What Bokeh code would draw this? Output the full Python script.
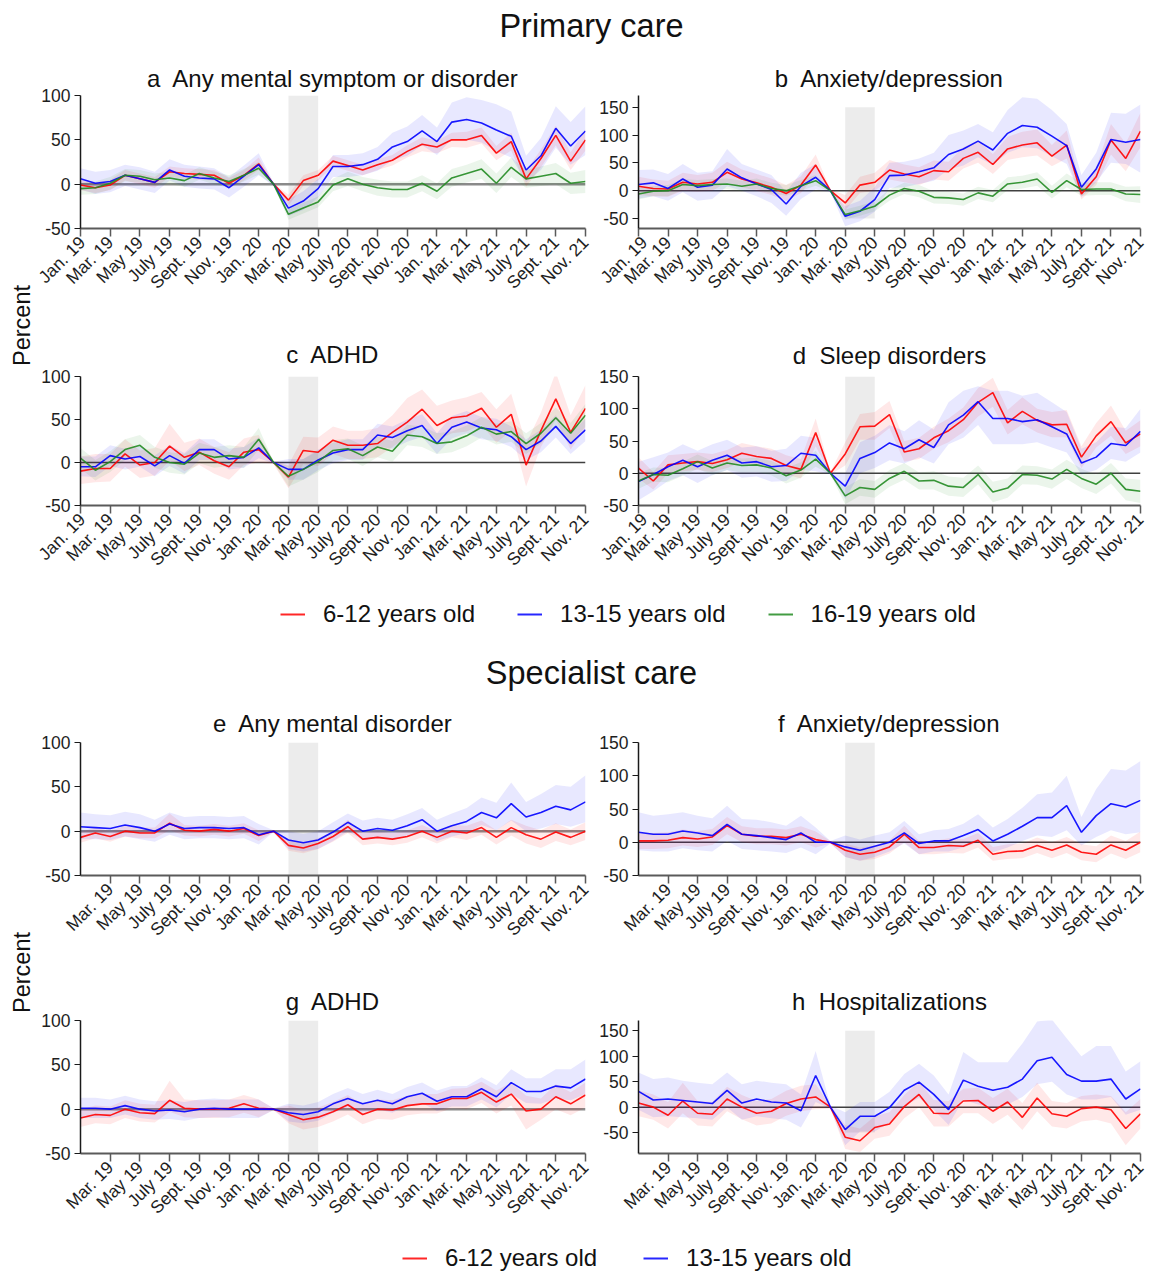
import math
from bokeh.plotting import figure
from bokeh.layouts import column, row
from bokeh.models import (Range1d, FixedTicker, Span, BoxAnnotation, Label,
                          Legend, LegendItem)
from bokeh.embed import file_html
from bokeh.resources import INLINE

FONT = "Liberation Sans"

# ---------------------------------------------------------------- categories
months = ["Jan. 19", "Feb. 19", "Mar. 19", "Apr. 19", "May 19", "June 19",
          "July 19", "Aug. 19", "Sept. 19", "Oct. 19", "Nov. 19", "Dec. 19",
          "Jan. 20", "Feb. 20", "Mar. 20", "Apr. 20", "May 20", "June 20",
          "July 20", "Aug. 20", "Sept. 20", "Oct. 20", "Nov. 20", "Dec. 20",
          "Jan. 21", "Feb. 21", "Mar. 21", "Apr. 21", "May 21", "June 21",
          "July 21", "Aug. 21", "Sept. 21", "Oct. 21", "Nov. 21"]
lockdown = ["Mar. 20", "May 20"]
groups = ["6-12 years old", "13-15 years old", "16-19 years old"]
colors = {"6-12 years old": "#FF0000", "13-15 years old": "#0000FF",
          "16-19 years old": "#228B22"}

# ---------------------------------------------------------------- a  primary, any mental
a_red = [-1,-4,-1,10,6,2,14,12,11,10,1,10,23,0,-18,4,10,26,21,16,22,27,37,45,42,50,50,55,35,48,6,29,55,26,50]
a_red_lo = [-7,-10,-7,4,0,-4,8,6,5,4,-5,4,16,-1,-24,-2,4,20,15,10,16,21,30,37,35,42,41,46,27,38,-3,19,44,16,38]
a_red_hi = [5,2,5,16,12,8,20,18,17,16,7,16,30,1,-12,10,16,32,27,22,28,33,44,53,49,58,59,64,43,58,15,39,66,36,62]
a_blue = [6,1,3,10,6,2,16,9,7,6,-4,9,22,0,-27,-19,-5,20,20,22,28,42,48,60,48,70,73,69,61,54,16,32,63,43,60]
a_blue_lo = [-6,-11,-9,-2,-6,-10,4,-3,-5,-6,-15,-3,10,-2,-36,-29,-15,8,8,10,15,27,32,44,33,51,50,47,37,30,2,16,41,22,33]
a_blue_hi = [18,14,16,22,19,14,28,22,20,18,8,21,35,2,-17,-8,6,33,33,35,42,58,65,78,64,92,98,95,90,82,32,52,88,70,88]
a_green = [-5,-4,1,10,9,5,7,4,12,7,3,10,18,0,-34,-27,-20,-1,6,0,-4,-6,-6,1,-8,7,12,17,1,19,6,9,12,1,3]
a_green_lo = [-12,-11,-6,3,2,-2,0,-3,5,0,-4,3,11,-1,-40,-33,-26,-8,-2,-8,-13,-15,-15,-8,-17,-3,2,6,-10,8,-4,-2,0,-11,-10]
a_green_hi = [2,3,8,17,16,12,14,11,19,14,10,17,25,1,-28,-21,-14,6,14,8,5,3,3,10,1,17,22,28,12,30,16,20,24,13,16]

# ---------------------------------------------------------------- b  primary, anxiety/depression
b_red = [8,4,3,15,12,15,33,21,14,6,-5,10,46,0,-22,10,15,37,30,25,36,34,58,69,47,75,82,86,62,82,-6,25,91,58,107]
b_red_lo = [-8,-10,-11,0,-2,0,15,6,0,-8,-18,-4,28,-2,-35,-4,0,20,15,10,20,18,40,50,30,55,60,63,44,58,-16,10,65,35,78]
b_red_hi = [25,20,18,32,28,32,52,38,30,22,10,26,65,2,-8,25,32,55,47,42,54,52,78,90,66,97,106,110,82,108,6,42,120,85,140]
b_blue = [11,14,4,21,6,10,39,23,12,2,-24,8,24,0,-46,-37,-16,27,28,34,41,65,75,89,73,103,117,114,98,81,6,39,92,87,92]
b_blue_lo = [-14,-10,-18,-3,-18,-15,8,0,-10,-22,-45,-15,2,-3,-64,-55,-38,5,6,12,18,38,45,60,46,68,78,76,62,48,-12,15,50,48,32]
b_blue_hi = [37,38,30,48,32,35,75,48,38,28,-2,32,48,3,-28,-18,6,50,52,58,68,100,108,120,105,145,168,165,145,120,28,68,140,138,155]
b_green = [-6,-1,0,11,9,11,12,8,12,4,0,9,18,0,-43,-36,-28,-8,4,-1,-12,-13,-16,-4,-10,12,15,21,-3,18,2,3,3,-6,-7]
b_green_lo = [-16,-10,-10,2,0,2,3,-1,3,-5,-9,0,9,-2,-52,-45,-37,-18,-6,-12,-23,-24,-27,-15,-21,1,4,9,-14,6,-9,-8,-8,-19,-22]
b_green_hi = [5,8,10,21,19,21,22,18,22,14,10,19,28,2,-34,-27,-19,2,14,10,-1,-2,-5,7,1,24,27,33,9,31,14,15,15,7,8]

# ---------------------------------------------------------------- c  primary, ADHD
c_red = [-10,-7,-7,10,-3,0,19,6,12,2,-5,12,15,0,-17,14,12,26,20,20,22,35,47,62,43,52,54,63,41,56,-3,37,74,35,63]
c_red_lo = [-25,-23,-22,-5,-18,-15,2,-10,-3,-13,-20,-3,0,-2,-30,-2,-4,10,4,4,6,18,30,44,26,34,36,44,23,37,-28,18,50,15,40]
c_red_hi = [7,10,10,27,14,17,45,23,28,18,12,28,32,2,-3,30,29,42,37,37,40,55,75,85,66,72,76,82,62,80,22,58,105,55,90]
c_blue = [-5,-5,8,4,7,-4,8,-1,15,15,4,6,17,0,-8,-8,3,11,15,15,32,29,37,43,22,41,47,40,38,30,15,25,42,22,38]
c_blue_lo = [-16,-17,-4,-8,-5,-16,-4,-13,3,3,-8,-6,5,-1,-20,-20,-9,-1,3,3,19,16,24,30,10,28,34,27,25,18,3,12,29,10,25]
c_blue_hi = [7,7,20,16,19,8,20,11,27,27,16,18,29,1,4,4,15,23,27,27,45,42,50,56,34,54,60,53,51,42,27,38,55,34,51]
c_green = [5,-9,1,15,20,6,0,-2,11,6,8,6,27,0,-16,-8,1,14,16,8,18,13,32,30,22,24,31,41,33,36,22,34,52,34,55]
c_green_lo = [-7,-21,-11,3,8,-6,-12,-14,-1,-6,-4,-6,15,-1,-28,-20,-11,2,4,-4,6,1,20,18,10,12,19,29,21,24,10,22,40,22,42]
c_green_hi = [17,3,13,27,32,18,12,10,23,18,20,18,40,1,-4,4,13,26,28,20,30,25,44,42,34,36,43,53,45,48,34,46,64,46,68]

# ---------------------------------------------------------------- d  primary, sleep
d_red = [8,-12,13,16,18,15,21,31,26,23,12,6,63,0,30,72,73,91,33,38,55,66,83,110,125,78,96,82,75,76,25,58,80,47,61]
d_red_lo = [-8,-25,0,3,5,2,8,17,12,9,-2,-8,42,-2,12,52,52,70,18,22,38,48,64,88,103,60,76,63,56,56,8,40,58,30,42]
d_red_hi = [25,2,28,30,32,30,36,47,42,38,28,22,85,2,48,92,95,112,50,55,72,85,102,132,148,98,118,100,95,98,42,78,105,66,82]
d_blue = [-13,-2,10,20,10,20,28,16,18,10,12,31,28,0,-20,23,32,47,38,52,40,75,90,111,85,85,80,83,72,61,16,25,46,43,65]
d_blue_lo = [-42,-28,-12,-3,-15,-3,5,-7,-5,-13,-12,5,3,-2,-40,0,8,20,15,25,15,45,55,75,45,45,45,48,40,32,-2,5,22,18,32]
d_blue_hi = [18,25,32,45,35,45,52,40,42,35,38,58,55,2,0,48,58,75,65,82,68,110,128,135,128,128,120,125,110,95,38,48,72,70,100]
d_green = [-12,-2,-3,7,18,8,16,12,13,8,-4,5,22,0,-35,-22,-25,-8,3,-12,-11,-20,-22,-2,-29,-23,-2,-3,-9,6,-8,-17,0,-25,-28]
d_green_lo = [-24,-13,-14,-4,7,-3,5,1,2,-3,-16,-7,10,-2,-48,-35,-38,-21,-10,-25,-25,-35,-37,-17,-45,-38,-17,-18,-24,-9,-23,-32,-16,-42,-46]
d_green_hi = [0,9,8,18,29,19,27,23,24,19,8,17,35,2,-22,-9,-12,5,16,1,3,-5,-7,12,-13,-8,12,11,6,21,7,-2,16,-8,-10]

# ---------------------------------------------------------------- e  specialist, any mental
e_red = [-7,-2,-6,0,-2,-2,9,1,0,2,0,3,-5,0,-16,-19,-14,-6,5,-9,-7,-9,-6,0,-7,0,-2,4,-7,4,-4,-9,-1,-7,0]
e_red_lo = [-13,-8,-12,-6,-8,-8,1,-5,-6,-4,-6,-3,-11,-1,-22,-25,-20,-12,-2,-16,-14,-16,-13,-7,-14,-7,-10,-4,-15,-5,-14,-19,-11,-16,-10]
e_red_hi = [-1,4,0,6,4,4,20,7,6,8,6,9,1,1,-10,-13,-8,0,13,-2,0,-2,1,7,0,7,6,12,1,13,6,1,9,2,10]
e_blue = [5,4,3,7,4,0,8,3,4,4,3,4,-4,0,-10,-13,-10,-1,10,0,3,1,6,13,0,6,11,21,15,31,16,21,28,24,33]
e_blue_lo = [-9,-9,-10,-6,-9,-12,-4,-9,-8,-8,-9,-8,-15,-1,-20,-23,-20,-11,0,-10,-8,-10,-6,1,-11,-6,-2,7,1,12,0,3,8,5,10]
e_blue_hi = [21,19,18,22,19,13,21,16,17,17,16,17,8,1,0,-3,0,10,20,12,15,13,19,26,13,20,26,38,32,55,33,42,52,50,63]

# ---------------------------------------------------------------- f  specialist, anxiety/depression
f_red = [2,2,3,7,5,8,25,12,9,9,7,12,4,0,-12,-18,-15,-7,12,-8,-8,-5,-6,3,-18,-14,-13,-5,-12,-4,-15,-18,-4,-12,0]
f_red_lo = [-10,-10,-9,-5,-7,-4,12,0,-3,-3,-5,0,-8,-2,-22,-28,-25,-17,0,-18,-18,-16,-17,-8,-28,-25,-24,-16,-24,-16,-27,-30,-17,-25,-15]
f_red_hi = [14,14,15,19,17,20,38,24,21,21,19,24,16,2,-2,-8,-5,3,25,2,2,6,5,14,-7,-3,-2,7,0,8,-3,-6,10,2,16]
f_blue = [15,12,12,17,14,10,27,12,10,7,4,14,0,0,-7,-12,-6,0,14,-2,2,2,10,19,2,12,24,37,37,55,15,40,58,53,63]
f_blue_lo = [-12,-14,-14,-9,-12,-14,2,-10,-12,-14,-16,-8,-18,-2,-22,-28,-22,-14,-2,-18,-14,-14,-8,0,-15,-8,2,10,8,18,-5,8,18,12,15]
f_blue_hi = [45,40,42,45,40,36,55,35,34,30,25,40,22,2,10,4,10,15,32,12,18,20,28,42,22,35,52,72,75,100,38,80,110,108,122]

# ---------------------------------------------------------------- g  specialist, ADHD
g_red = [-10,-6,-7,0,-4,-5,10,1,0,0,1,6,1,0,-6,-12,-9,-3,5,-6,0,-1,4,6,6,12,12,19,8,17,-2,0,14,6,16]
g_red_lo = [-20,-16,-17,-10,-14,-15,-3,-9,-10,-10,-9,-4,-9,-1,-16,-23,-20,-14,-6,-17,-11,-12,-7,-5,-5,1,0,7,-5,4,-23,-12,0,-7,2]
g_red_hi = [0,4,3,10,6,5,32,11,10,10,11,16,11,1,4,-1,2,8,16,5,11,10,15,17,17,23,24,31,21,30,15,12,28,19,30]
g_blue = [1,1,0,4,0,-2,-1,-3,0,1,0,0,0,0,-4,-6,-3,6,12,6,10,6,14,18,9,14,14,23,14,30,20,20,26,24,34]
g_blue_lo = [-10,-10,-10,-6,-10,-12,-11,-13,-10,-9,-10,-10,-10,-1,-14,-16,-13,-4,2,-4,0,-4,4,7,-2,3,3,11,2,17,7,6,12,10,17]
g_blue_hi = [13,13,11,15,11,9,10,8,11,12,11,11,11,1,6,4,8,17,24,17,22,17,25,30,21,26,26,36,27,45,35,35,45,45,56]

# ---------------------------------------------------------------- h  specialist, hospitalizations
h_red = [8,0,-16,12,-12,-14,16,0,-12,-8,7,16,20,0,-59,-66,-40,-33,1,25,-12,-13,12,13,-8,10,-20,18,-13,-18,-3,0,-5,-42,-13]
h_red_lo = [-18,-25,-42,-12,-36,-38,-8,-24,-36,-32,-17,-8,-4,-3,-82,-88,-62,-56,-22,0,-38,-38,-12,-12,-33,-15,-45,-8,-38,-42,-28,-25,-32,-75,-42]
h_red_hi = [33,25,10,48,12,10,40,24,12,16,32,42,45,3,-35,-42,-18,-10,24,50,14,12,36,38,18,36,8,48,12,8,22,25,22,-10,16]
h_blue = [31,14,16,13,10,7,33,8,16,10,8,-7,62,0,-44,-18,-18,-1,33,49,25,-5,53,41,33,39,55,91,98,64,51,51,55,16,36]
h_blue_lo = [-5,-20,-18,-20,-22,-25,0,-25,-18,-22,-25,-40,10,-3,-75,-48,-48,-30,2,18,-5,-35,15,5,0,5,20,45,50,25,15,15,20,-15,-5]
h_blue_hi = [68,55,58,52,48,45,68,45,52,48,45,25,110,3,-10,10,10,30,65,85,62,25,108,88,88,88,125,168,172,135,100,120,120,70,90]

G0, G1, G2 = groups


def make_panel(title, series, y_range, y_ticks, shade_y, first_tick,
               zero_color, zero_width, width, height, mbl, mbr, mbt, mbb,
               title_standoff):
    xs = list(range(len(months)))
    p = figure(width=width, height=height, title=title,
               x_range=Range1d(0, len(months) - 1), y_range=Range1d(*y_range),
               output_backend="svg", toolbar_location=None,
               min_border_left=mbl, min_border_right=mbr,
               min_border_top=mbt, min_border_bottom=mbb)
    p.add_layout(BoxAnnotation(left=months.index(lockdown[0]),
                               right=months.index(lockdown[1]),
                               bottom=shade_y[0], top=shade_y[1],
                               fill_color="#d4d4d4", fill_alpha=0.45,
                               line_alpha=0, level="underlay"))
    p.add_layout(Span(location=0, dimension="width", line_color=zero_color,
                      line_width=zero_width, level="underlay"))
    for grp, mean, lo, hi in series:
        p.varea(x=xs, y1=lo, y2=hi, fill_color=colors[grp], fill_alpha=0.09)
    for grp, mean, lo, hi in series:
        p.line(xs, mean, line_color=colors[grp], line_width=1.6, line_alpha=0.9)

    p.title.align = "center"
    p.title.text_font = FONT
    p.title.text_font_size = "24px"
    p.title.text_font_style = "normal"
    p.title.text_color = "#111111"
    p.title.standoff = title_standoff

    ticks = list(range(first_tick, len(months), 2))
    p.xaxis.ticker = FixedTicker(ticks=ticks)
    p.xaxis.major_label_overrides = {t: months[t] for t in ticks}
    p.xaxis.major_label_orientation = math.pi / 4
    p.xaxis.axis_line_color = "#5a5a5a"
    p.xaxis.axis_line_width = 2
    p.xaxis.major_tick_line_color = "#5a5a5a"
    p.xaxis.major_tick_line_width = 1.5
    p.xaxis.major_tick_out = 8
    p.xaxis.major_tick_in = 0
    p.xaxis.minor_tick_line_color = None
    p.xaxis.major_label_standoff = 3

    p.yaxis.ticker = FixedTicker(ticks=y_ticks)
    p.yaxis.major_label_overrides = {t: str(t) for t in y_ticks}
    p.yaxis.axis_line_color = "#1a1a1a"
    p.yaxis.axis_line_width = 1.5
    p.yaxis.major_tick_line_color = "#1a1a1a"
    p.yaxis.major_tick_line_width = 1.2
    p.yaxis.major_tick_out = 6
    p.yaxis.major_tick_in = 0
    p.yaxis.minor_tick_line_color = None
    p.yaxis.major_label_standoff = 4

    for ax in (p.xaxis, p.yaxis):
        ax.major_label_text_font = FONT
        ax.major_label_text_font_size = "17.5px"
        ax.major_label_text_color = "#1e1e1e"

    p.xgrid.visible = False
    p.ygrid.visible = False
    p.outline_line_color = None
    p.background_fill_color = "white"
    return p


def text_fig(text, width, height, x, y, size, angle=0.0):
    p = figure(width=width, height=height, x_range=Range1d(0, 1),
               y_range=Range1d(0, 1), output_backend="svg",
               toolbar_location=None, min_border=0,
               x_axis_type=None, y_axis_type=None)
    p.xgrid.visible = False
    p.ygrid.visible = False
    p.outline_line_color = None
    p.add_layout(Label(x=x, y=y, x_units="screen", y_units="screen",
                       text=text, angle=angle, text_align="center",
                       text_baseline="middle", text_font=FONT,
                       text_font_size=size, text_color="#111111"))
    return p


def legend_fig(grps, width, height, loc, spacing):
    p = figure(width=width, height=height, x_range=Range1d(0, 1),
               y_range=Range1d(0, 1), output_backend="svg",
               toolbar_location=None, min_border=0,
               x_axis_type=None, y_axis_type=None)
    p.xgrid.visible = False
    p.ygrid.visible = False
    p.outline_line_color = None
    items = []
    for g in grps:
        # invisible proxy renderer (kept outside the visible range) for the legend key
        r = p.line(x=[-3, -2], y=[-3, -2], line_color=colors[g],
                   line_width=2, line_alpha=0.85)
        items.append(LegendItem(label=g, renderers=[r]))
    leg = Legend(items=items, orientation="horizontal", location=loc,
                 glyph_width=25, glyph_height=26, label_height=26,
                 label_standoff=18, spacing=spacing, padding=0, margin=0,
                 border_line_alpha=0, background_fill_alpha=0,
                 label_text_font=FONT, label_text_font_size="24px",
                 label_text_color="#111111")
    p.add_layout(leg, "center")
    return p


W_LEFT, W_RIGHT, W_PCT = 562, 553, 34
W_ALL = W_PCT + W_LEFT + W_RIGHT

pa = make_panel("a\u00a0 Any mental symptom or disorder",
                [(G0, a_red, a_red_lo, a_red_hi), (G1, a_blue, a_blue_lo, a_blue_hi),
                 (G2, a_green, a_green_lo, a_green_hi)],
                (-50, 100), [-50, 0, 50, 100], (-50, 100), 0, "#8a8a8a", 2.5,
                W_LEFT, 245, 46, 11, 35, 75, 8)
pb = make_panel("b\u00a0 Anxiety/depression",
                [(G0, b_red, b_red_lo, b_red_hi), (G1, b_blue, b_blue_lo, b_blue_hi),
                 (G2, b_green, b_green_lo, b_green_hi)],
                (-68, 171), [-50, 0, 50, 100, 150], (-50, 150), 0, "#404040", 1.5,
                W_RIGHT, 245, 40, 9, 35, 75, 8)
pc = make_panel("c\u00a0 ADHD",
                [(G0, c_red, c_red_lo, c_red_hi), (G1, c_blue, c_blue_lo, c_blue_hi),
                 (G2, c_green, c_green_lo, c_green_hi)],
                (-50, 100), [-50, 0, 50, 100], (-50, 100), 0, "#404040", 1.5,
                W_LEFT, 282, 46, 11, 73, 80, 17)
pd_ = make_panel("d\u00a0 Sleep disorders",
                 [(G0, d_red, d_red_lo, d_red_hi), (G1, d_blue, d_blue_lo, d_blue_hi),
                  (G2, d_green, d_green_lo, d_green_hi)],
                 (-50, 150), [-50, 0, 50, 100, 150], (-50, 150), 0, "#404040", 1.5,
                 W_RIGHT, 282, 40, 9, 69, 80, 15)
pe = make_panel("e\u00a0 Any mental disorder",
                [(G0, e_red, e_red_lo, e_red_hi), (G1, e_blue, e_blue_lo, e_blue_hi)],
                (-50, 100), [-50, 0, 50, 100], (-50, 100), 2, "#8a8a8a", 2.5,
                W_LEFT, 255, 46, 11, 42, 80, 11)
pf = make_panel("f\u00a0 Anxiety/depression",
                [(G0, f_red, f_red_lo, f_red_hi), (G1, f_blue, f_blue_lo, f_blue_hi)],
                (-50, 150), [-50, 0, 50, 100, 150], (-50, 150), 2, "#404040", 1.5,
                W_RIGHT, 255, 40, 9, 42, 80, 11)
pg = make_panel("g\u00a0 ADHD",
                [(G0, g_red, g_red_lo, g_red_hi), (G1, g_blue, g_blue_lo, g_blue_hi)],
                (-50, 100), [-50, 0, 50, 100], (-50, 100), 2, "#8a8a8a", 2.5,
                W_LEFT, 273, 46, 11, 64, 75, 11)
ph = make_panel("h\u00a0 Hospitalizations",
                [(G0, h_red, h_red_lo, h_red_hi), (G1, h_blue, h_blue_lo, h_blue_hi)],
                (-91, 170), [-50, 0, 50, 100, 150], (-50, 150), 2, "#404040", 1.5,
                W_RIGHT, 273, 40, 9, 65, 75, 12)

title1 = text_fig("Primary care", W_ALL, 58, 591, 33, "32.5px")
pct1 = text_fig("Percent", W_PCT, 527, 21, 260, "23.5px", angle=math.pi / 2)
leg1 = legend_fig(groups, W_ALL, 60, (280, 17), 42)
title2 = text_fig("Specialist care", W_ALL, 55, 591, 28, "32.5px")
pct2 = text_fig("Percent", W_PCT, 528, 21, 256, "23.5px", angle=math.pi / 2)
leg2 = legend_fig(groups[:2], W_ALL, 48, (402, 4), 46)

layout = column(
    title1,
    row(pct1, column(row(pa, pb), row(pc, pd_))),
    leg1,
    title2,
    row(pct2, column(row(pe, pf), row(pg, ph))),
    leg2,
)

open("out.html", "w").write(file_html(layout, INLINE))
